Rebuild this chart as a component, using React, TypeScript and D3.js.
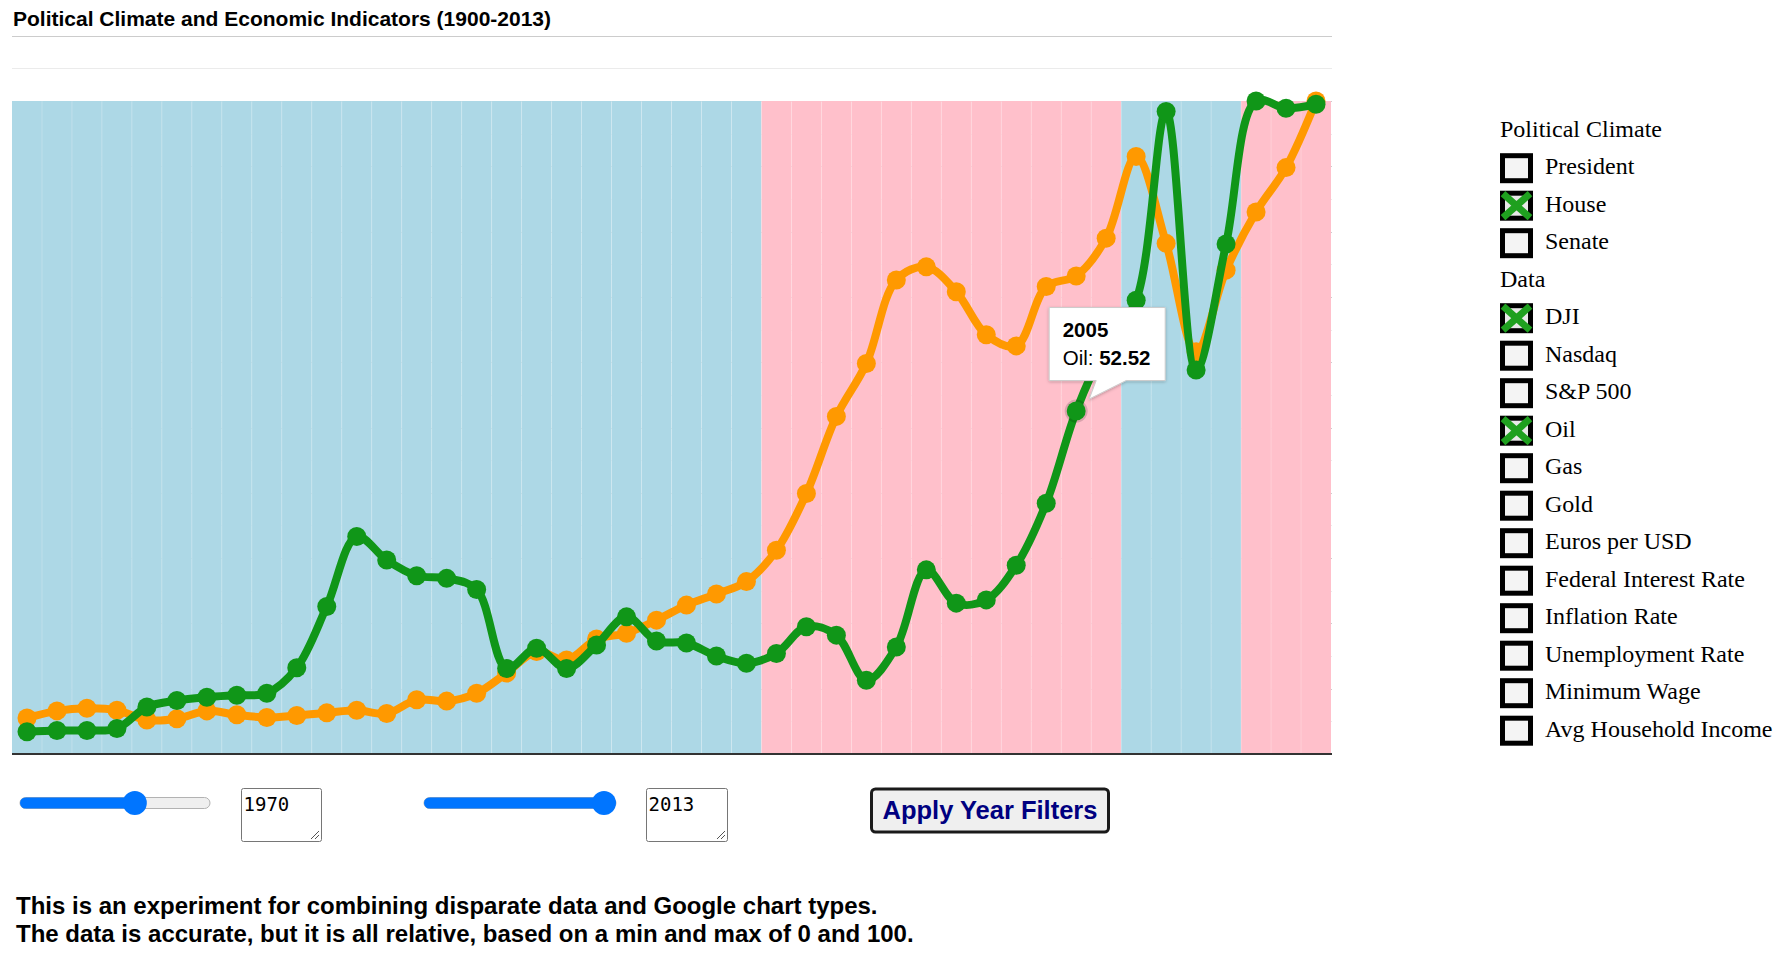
import React from "react";
import * as d3 from "d3";

// ---------- data ----------
const years: number[] = d3.range(1970, 2014);
const djiValues: number[] = [
  5.5, 6.6, 7.0, 6.7, 5.2, 5.4, 6.6, 6.0, 5.6, 5.9,
  6.3, 6.7, 6.2, 8.3, 8.1, 9.3, 12.4, 15.7, 14.4, 17.6,
  18.5, 20.5, 22.8, 24.5, 26.4, 31.2, 39.9, 51.7, 59.8, 72.6,
  74.6, 70.8, 64.2, 62.5, 71.6, 73.2, 79.0, 91.5, 78.2, 61.6,
  74.1, 83.0, 89.8, 100,
];
const oilValues: number[] = [
  3.4, 3.6, 3.6, 3.9, 7.2, 8.2, 8.7, 9.0, 9.3, 13.2,
  22.6, 33.3, 29.7, 27.3, 26.9, 25.2, 13.1, 16.2, 13.1, 16.7,
  21.0, 17.3, 17.0, 15.0, 13.9, 15.4, 19.5, 18.2, 11.3, 16.4,
  28.2, 23.1, 23.6, 28.9, 38.4, 52.52, 62.6, 69.5, 98.4, 58.8,
  78.1, 100, 98.9, 99.5,
];
// House majority spans: [firstYear, lastYear, party]
const houseSpans: [number, number, string][] = [
  [1970, 1994, "D"],
  [1995, 2006, "R"],
  [2007, 2010, "D"],
  [2011, 2013, "R"],
];
const politicalOptions: string[] = ["President", "House", "Senate"];
const politicalChecked: string[] = ["House"];
const dataOptions: string[] = [
  "DJI", "Nasdaq", "S&P 500", "Oil", "Gas", "Gold", "Euros per USD",
  "Federal Interest Rate", "Inflation Rate", "Unemployment Rate",
  "Minimum Wage", "Avg Household Income",
];
const dataChecked: string[] = ["DJI", "Oil"];
const gridValues: number[] = d3.range(5, 115, 5);
const yearRangeMin = 1900;
const yearRangeMax = 2013;
const startYear = 1970;
const endYear = 2013;
const tooltipYear = 2005;
const titleText = "Political Climate and Economic Indicators (1900-2013)";
const noteLines: string[] = [
  "This is an experiment for combining disparate data and Google chart types.",
  "The data is accurate, but it is all relative, based on a min and max of 0 and 100.",
];

// ---------- styles ----------
const W = 1789;
const H = 958;
const chart = { left: 12, right: 1331, top: 101, bottom: 754 };
const partyColor: Record<string, string> = { D: "#add8e6", R: "#ffc0cb" };
const DJI_COLOR = "#ff9900";
const OIL_COLOR = "#109618";
const sans = "'Liberation Sans', Arial, sans-serif";
const serif = "'Liberation Serif', 'Times New Roman', serif";
const mono = "'DejaVu Sans Mono', monospace";

function partyFor(year: number): string {
  const s = houseSpans.find((d) => year >= d[0] && year <= d[1]);
  return s ? s[2] : "D";
}

function Slider({ x0, x1, cy, value }: { x0: number; x1: number; cy: number; value: number }) {
  const r = 12;
  const pos = d3
    .scaleLinear()
    .domain([yearRangeMin, yearRangeMax])
    .range([x0 + r, x1 - r])
    .clamp(true);
  const kx = pos(value);
  return (
    <g>
      <rect x={x0} y={cy - 5.5} width={x1 - x0} height={11} rx={5.5} fill="#efefef" stroke="#b2b2b2" strokeWidth={1} />
      <rect x={x0} y={cy - 5.5} width={kx - x0} height={11} rx={5.5} fill="#0075ff" />
      <circle cx={kx} cy={cy} r={r} fill="#0075ff" />
    </g>
  );
}

function TextArea({ x, y, w, h, text }: { x: number; y: number; w: number; h: number; text: string }) {
  return (
    <g>
      <rect x={x + 0.5} y={y + 0.5} width={w - 1} height={h - 1} rx={2} fill="#fff" stroke="#767676" strokeWidth={1} />
      <text x={x + 2.5} y={y + 22.5} fontFamily={mono} fontSize={19} fill="#000">{text}</text>
      <line x1={x + w - 11} y1={y + h - 3} x2={x + w - 3} y2={y + h - 11} stroke="#555" strokeWidth={1} />
      <line x1={x + w - 7} y1={y + h - 3} x2={x + w - 3} y2={y + h - 7} stroke="#555" strokeWidth={1} />
    </g>
  );
}

function CheckBox({ x, baseline, checked }: { x: number; baseline: number; checked: boolean }) {
  const top = baseline - 21;
  const w = 33;
  const h = 30;
  return (
    <g>
      <rect x={x} y={top} width={w} height={h} fill="#000" />
      <rect x={x + 5} y={top + 5} width={w - 10} height={h - 10} fill={checked ? "#e8e8e8" : "#f4f4f4"} />
      {checked && (
        <g stroke="#1fa01f" strokeWidth={7} strokeLinecap="butt">
          <line x1={x + 3} y1={top + 3} x2={x + w - 3} y2={top + h - 3} />
          <line x1={x + w - 3} y1={top + 3} x2={x + 3} y2={top + h - 3} />
        </g>
      )}
    </g>
  );
}

export default function App() {
  const x = d3.scaleBand<number>().domain(years).range([chart.left, chart.right]).padding(0);
  const bw = x.bandwidth();
  const cx = (yr: number) => (x(yr) as number) + bw / 2;
  const y = d3.scaleLinear().domain([0, 100]).range([chart.bottom, chart.top]);

  const line = d3
    .line<number>()
    .x((_, i) => cx(years[i]))
    .y((d) => y(d))
    .curve(d3.curveCatmullRom.alpha(0.5));

  const series = [
    { name: "DJI", values: djiValues, color: DJI_COLOR },
    { name: "Oil", values: oilValues, color: OIL_COLOR },
  ];

  const ti = years.indexOf(tooltipYear);
  const px = cx(tooltipYear);
  const py = y(oilValues[ti]);

  const legendX = 1500;
  const legendTextX = 1545;
  const rowH = 37.5;
  const legendTop = 136.7;

  const legendRows: { kind: string; label: string; checked?: boolean }[] = [
    { kind: "head", label: "Political Climate" },
    ...politicalOptions.map((p) => ({ kind: "box", label: p, checked: politicalChecked.includes(p) })),
    { kind: "head", label: "Data" },
    ...dataOptions.map((p) => ({ kind: "box", label: p, checked: dataChecked.includes(p) })),
  ];

  return (
    <svg width={W} height={H} style={{ position: "absolute", left: 0, top: 0, display: "block" }}>
      <defs>
        <filter id="tipShadow" x="-20%" y="-20%" width="140%" height="150%">
          <feDropShadow dx="0" dy="1" stdDeviation="1.5" floodColor="#000" floodOpacity="0.25" />
        </filter>
      </defs>
      <rect width={W} height={H} fill="#fff" />

      {/* title */}
      <text x={13} y={26} fontFamily={sans} fontWeight="bold" fontSize={21} fill="#000">{titleText}</text>

      {/* gridlines */}
      {gridValues.map((v) => (
        <line key={v} x1={chart.left} x2={chart.right + 1} y1={Math.round(y(v)) + 0.5} y2={Math.round(y(v)) + 0.5}
          stroke={v % 10 === 0 ? "#cccccc" : "#ebebeb"} strokeWidth={1} />
      ))}

      {/* house majority stepped area */}
      {years.map((yr) => (
        <rect key={yr} x={x(yr)} y={y(100)} width={bw} height={y(0) - y(100)} fill={partyColor[partyFor(yr)]} />
      ))}
      {years.slice(1).map((yr) => (
        <line key={"s" + yr} x1={x(yr)} x2={x(yr)} y1={y(100)} y2={y(0)} stroke="#ffffff" strokeOpacity={0.22} strokeWidth={1} />
      ))}

      {/* baseline axis */}
      <line x1={chart.left} x2={chart.right + 1} y1={chart.bottom} y2={chart.bottom} stroke="#333" strokeWidth={2} />

      {/* series */}
      {series.map((s) => (
        <g key={s.name}>
          <path d={line(s.values) || ""} fill="none" stroke={s.color} strokeWidth={8} strokeLinejoin="round" />
          {s.values.map((v, i) => (
            <circle key={i} cx={cx(years[i])} cy={y(v)} r={9.5} fill={s.color} />
          ))}
        </g>
      ))}

      {/* hovered point */}
      <circle cx={px} cy={py} r={10.5} fill="none" stroke="#000" strokeOpacity={0.15} strokeWidth={2} />

      {/* tooltip */}
      <g filter="url(#tipShadow)">
        <path
          d={`M${px - 27},${py - 103.5} H${px + 89} V${py - 30.5} H${px + 50} L${px + 13},${py - 12} L${px + 20},${py - 30.5} H${px - 27} Z`}
          fill="#fff" stroke="#cccccc" strokeWidth={1}
        />
      </g>
      <text x={px - 13.5} y={py - 74.5} fontFamily={sans} fontWeight="bold" fontSize={20.5} fill="#000">{tooltipYear}</text>
      <text x={px - 13.5} y={py - 46.5} fontFamily={sans} fontSize={20.5} fill="#000">
        Oil: <tspan fontWeight="bold">{oilValues[ti].toFixed(2)}</tspan>
      </text>

      {/* legend */}
      {legendRows.map((r, i) => {
        const by = legendTop + i * rowH;
        return r.kind === "head" ? (
          <text key={i} x={legendX} y={by} fontFamily={serif} fontSize={24} fill="#000">{r.label}</text>
        ) : (
          <g key={i}>
            <CheckBox x={legendX} baseline={by} checked={!!r.checked} />
            <text x={legendTextX} y={by} fontFamily={serif} fontSize={24} fill="#000">{r.label}</text>
          </g>
        );
      })}

      {/* controls */}
      <Slider x0={20} x1={210} cy={803} value={startYear} />
      <TextArea x={241} y={788} w={81} h={54} text={String(startYear)} />
      <Slider x0={424} x1={616} cy={803} value={endYear} />
      <TextArea x={646} y={788} w={82} h={54} text={String(endYear)} />

      <g>
        <rect x={871.5} y={789} width={237} height={43} rx={4} fill="#efefef" stroke="#1a1a1a" strokeWidth={3} />
        <text x={990} y={818.5} textAnchor="middle" fontFamily={sans} fontWeight="bold" fontSize={25.5} fill="#000080">
          Apply Year Filters
        </text>
      </g>

      {/* note */}
      {noteLines.map((t, i) => (
        <text key={i} x={16} y={914 + i * 27.5} fontFamily={sans} fontWeight="bold" fontSize={24} fill="#000">{t}</text>
      ))}
    </svg>
  );
}
